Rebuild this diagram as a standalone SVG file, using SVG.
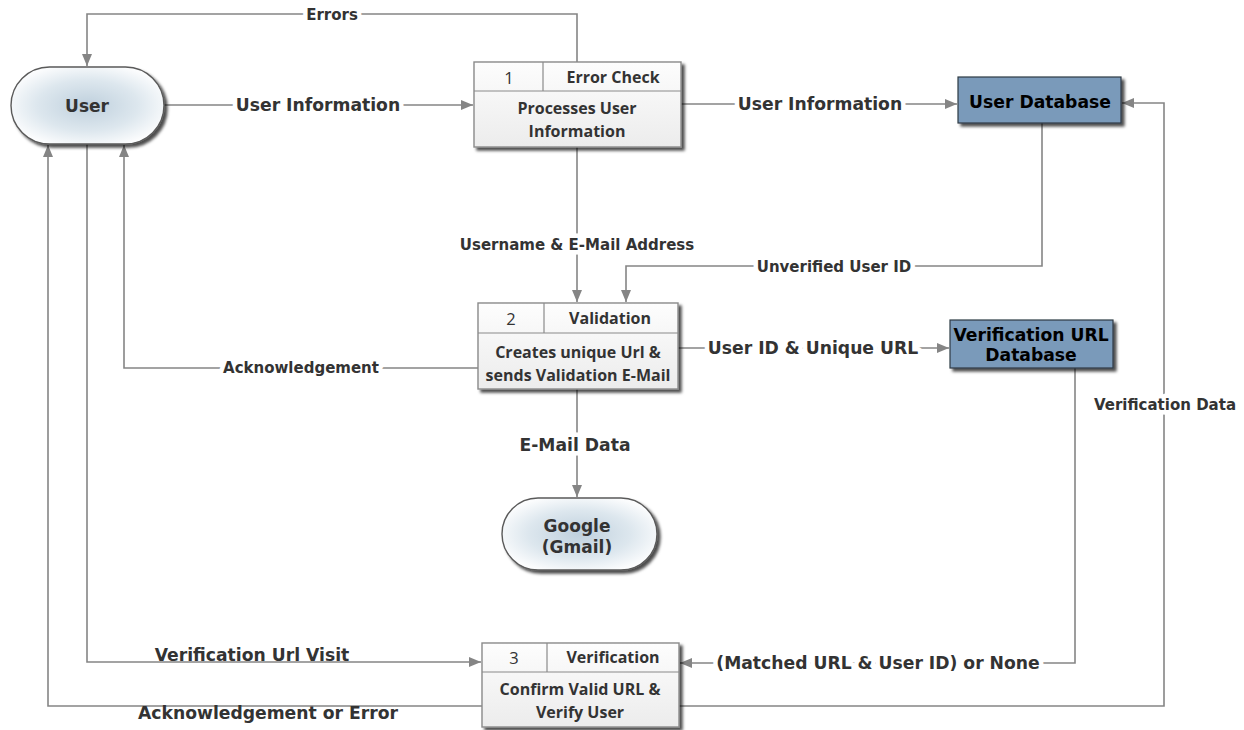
<svg xmlns="http://www.w3.org/2000/svg" width="1244" height="730" viewBox="0 0 1244 730">
  <defs>
    <style>
      .wire { fill: none; stroke: #858585; stroke-width: 1.6; }
      .arr { marker-end: url(#head); }
      .lbl { font-family: "DejaVu Sans", Verdana, sans-serif; font-weight: bold; fill: #333333; text-anchor: middle; dominant-baseline: central; }
      .halo { stroke: #ffffff; stroke-width: 9; paint-order: stroke; stroke-linejoin: round; }
      .big { font-size: 17.2px; }
      .small { font-size: 15px; }
      .ent { fill: url(#pill); stroke: #5a5a5a; stroke-width: 1.4; filter: url(#shadow); }
      .entTxt { font-family: "DejaVu Sans", Verdana, sans-serif; font-weight: bold; font-size: 17px; fill: #333333; text-anchor: middle; dominant-baseline: central; }
      .proc { fill: url(#procFill); stroke: #8a8a8a; stroke-width: 1.4; filter: url(#shadow); }
      .div { stroke: #8a8a8a; stroke-width: 1.2; fill: none; }
      .pTxt { font-family: "Open Sans", "Noto Sans", sans-serif; font-weight: bold; font-size: 16px; fill: #333333; text-anchor: middle; dominant-baseline: central; }
      .pNum { font-family: "Open Sans", "Noto Sans", sans-serif; font-weight: normal; font-size: 16.5px; fill: #333333; text-anchor: middle; dominant-baseline: central; }
      .store { fill: #7a9aba; stroke: #2f3a44; stroke-width: 1.2; filter: url(#shadow); }
      .sTxt { font-family: "DejaVu Sans", Verdana, sans-serif; font-weight: bold; font-size: 17.2px; fill: #000000; text-anchor: middle; dominant-baseline: central; }
    </style>
    <marker id="head" viewBox="0 0 12 10" refX="12" refY="5" markerWidth="12" markerHeight="10" markerUnits="userSpaceOnUse" orient="auto">
      <path d="M0,0 L12,5 L0,10 Z" fill="#858585"/>
    </marker>
    <radialGradient id="pill" cx="50%" cy="50%" r="55%">
      <stop offset="0" stop-color="#bfd0dd"/>
      <stop offset="0.6" stop-color="#dde7ee"/>
      <stop offset="1" stop-color="#fbfcfd"/>
    </radialGradient>
    <linearGradient id="procFill" x1="0" y1="0" x2="0" y2="1">
      <stop offset="0" stop-color="#fdfdfd"/>
      <stop offset="1" stop-color="#ececec"/>
    </linearGradient>
    <filter id="shadow" x="-10%" y="-10%" width="125%" height="130%">
      <feDropShadow dx="3" dy="3" stdDeviation="1.6" flood-color="#000000" flood-opacity="0.7"/>
    </filter>
  </defs>

  <!-- connectors -->
  <g id="connectors">
    <!-- Errors: process 1 back to the user -->
    <path class="wire arr" d="M577,62 V14 H87 V66"/>
    <!-- User Information: user to process 1 -->
    <path class="wire arr" d="M164,105 H473"/>
    <!-- User Information: process 1 to user store -->
    <path class="wire arr" d="M681,104 H957"/>
    <!-- Username & E-Mail Address -->
    <path class="wire arr" d="M577,147 V302"/>
    <!-- Unverified User ID -->
    <path class="wire arr" d="M1042,123 V266 H626 V302"/>
    <!-- Acknowledgement -->
    <path class="wire arr" d="M478,368 H124 V145"/>
    <!-- User ID & Unique URL -->
    <path class="wire arr" d="M678,348 H949"/>
    <!-- E-Mail Data -->
    <path class="wire arr" d="M577,389 V497"/>
    <!-- Verification Url Visit -->
    <path class="wire arr" d="M87,144 V662 H481"/>
    <!-- Acknowledgement or Error -->
    <path class="wire arr" d="M482,706 H48 V145"/>
    <!-- (Matched URL & User ID) or None -->
    <path class="wire arr" d="M1075,368 V663 H680"/>
    <!-- Verification Data -->
    <path class="wire arr" d="M679,706 H1164 V103 H1122"/>

    <text class="lbl small halo" x="332" y="15">Errors</text>
    <text class="lbl big halo" x="318" y="105">User Information</text>
    <text class="lbl big halo" x="820" y="104">User Information</text>
    <text class="lbl small halo" x="577" y="245">Username &amp; E-Mail Address</text>
    <text class="lbl small halo" x="834" y="267">Unverified User ID</text>
    <text class="lbl small halo" x="301" y="368">Acknowledgement</text>
    <text class="lbl big halo" x="813" y="348">User ID &amp; Unique URL</text>
    <text class="lbl big halo" x="575" y="445">E-Mail Data</text>
    <text class="lbl big" x="252" y="655">Verification Url Visit</text>
    <text class="lbl big" x="268" y="713">Acknowledgement or Error</text>
    <text class="lbl big halo" x="878" y="663">(Matched URL &amp; User ID) or None</text>
    <text class="lbl small halo" x="1165" y="405">Verification Data</text>
  </g>

  <!-- external entity: user -->
  <g id="user">
    <rect class="ent" x="11" y="67" width="153" height="77" rx="38.5" ry="38.5"/>
    <text class="entTxt" x="87" y="106">User</text>
  </g>

  <!-- process 1 -->
  <g id="process-1">
    <rect class="proc" x="474" y="62" width="207" height="85"/>
    <line class="div" x1="474" y1="91" x2="681" y2="91"/>
    <line class="div" x1="543" y1="62" x2="543" y2="91"/>
    <text class="pNum" x="509" y="77">1</text>
    <text class="pTxt" x="613" y="77">Error Check</text>
    <text class="pTxt" x="577" y="108">Processes User</text>
    <text class="pTxt" x="577" y="131">Information</text>
  </g>

  <!-- data store: users -->
  <g id="user-database">
    <rect class="store" x="958" y="77" width="163" height="46"/>
    <text class="sTxt" x="1040" y="102">User Database</text>
  </g>

  <!-- process 2 -->
  <g id="process-2">
    <rect class="proc" x="478" y="303" width="200" height="86"/>
    <line class="div" x1="478" y1="333" x2="678" y2="333"/>
    <line class="div" x1="544" y1="303" x2="544" y2="333"/>
    <text class="pNum" x="511" y="318">2</text>
    <text class="pTxt" x="610" y="318">Validation</text>
    <text class="pTxt" x="578" y="352">Creates unique Url &amp;</text>
    <text class="pTxt" x="578" y="375">sends Validation E-Mail</text>
  </g>

  <!-- data store: verification URLs -->
  <g id="verification-url-database">
    <rect class="store" x="950" y="320" width="163" height="48"/>
    <text class="sTxt" x="1031" y="335">Verification URL</text>
    <text class="sTxt" x="1031" y="355">Database</text>
  </g>

  <!-- external entity: mail provider -->
  <g id="google">
    <rect class="ent" x="502" y="498" width="155" height="72" rx="36" ry="36"/>
    <text class="entTxt" x="577" y="526">Google</text>
    <text class="entTxt" x="577" y="547">(Gmail)</text>
  </g>

  <!-- process 3 -->
  <g id="process-3">
    <rect class="proc" x="482" y="643" width="197" height="84"/>
    <line class="div" x1="482" y1="672" x2="679" y2="672"/>
    <line class="div" x1="547" y1="643" x2="547" y2="672"/>
    <text class="pNum" x="514" y="657">3</text>
    <text class="pTxt" x="613" y="657">Verification</text>
    <text class="pTxt" x="580" y="689">Confirm Valid URL &amp;</text>
    <text class="pTxt" x="580" y="712">Verify User</text>
  </g>
</svg>
